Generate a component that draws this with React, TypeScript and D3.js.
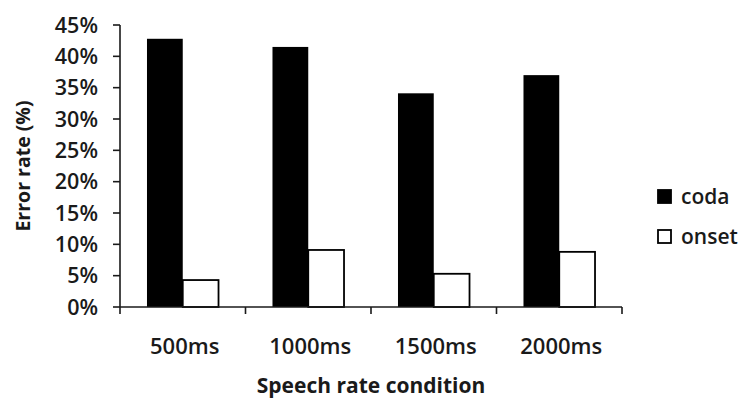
import React from "react";
import * as d3 from "d3";

const categories = ["500ms", "1000ms", "1500ms", "2000ms"];
const seriesNames = ["coda", "onset"];
const codaValues = [42.8, 41.5, 34.1, 37.0];
const onsetValues = [4.3, 9.1, 5.3, 8.8];
const yTicks = [0, 5, 10, 15, 20, 25, 30, 35, 40, 45];

const W = 740;
const H = 399;
const left = 120;
const right = 622;
const top = 25;
const bottom = 307;
const font = "'Open Sans', sans-serif";
const ink = "#1a1a1a";

export default function App() {
  const x = d3.scaleBand<string>().domain(categories).range([left, right]).paddingInner(0).paddingOuter(0);
  const bw = x.bandwidth();
  const x1 = d3.scaleBand<string>().domain(seriesNames).range([bw * 0.215, bw * 0.785]).padding(0);
  const y = d3.scaleLinear().domain([0, 45]).range([bottom, top]);
  const values: Record<string, number[]> = { coda: codaValues, onset: onsetValues };
  const boundaries = [...categories.map((c) => x(c) as number), right];

  return (
    <svg width={W} height={H} style={{ position: "absolute", left: 0, top: 0, background: "#fff" }}>
      {/* bars */}
      {categories.map((c, i) =>
        seriesNames.map((s) => {
          const v = values[s][i];
          const bx = (x(c) as number) + (x1(s) as number);
          return (
            <rect
              key={c + s}
              x={bx}
              y={y(v)}
              width={x1.bandwidth()}
              height={y(0) - y(v)}
              fill={s === "coda" ? "#000" : "#fff"}
              stroke="#000"
              strokeWidth={s === "coda" ? 0 : 1.8}
            />
          );
        })
      )}
      {/* y axis */}
      <line x1={left} x2={left} y1={y(45)} y2={y(0)} stroke={ink} strokeWidth={1.6} />
      {yTicks.map((t) => (
        <g key={t}>
          <line x1={left - 7} x2={left} y1={y(t)} y2={y(t)} stroke={ink} strokeWidth={1.6} />
          <text
            x={left - 22}
            y={y(t)}
            dy="0.35em"
            textAnchor="end"
            fontFamily={font}
            fontSize={21.5}
            fontWeight={600}
            fill={ink}
          >
            {t}%
          </text>
        </g>
      ))}
      {/* x axis */}
      <line x1={left} x2={right} y1={y(0)} y2={y(0)} stroke={ink} strokeWidth={1.6} />
      {boundaries.map((b, i) => (
        <line key={i} x1={b} x2={b} y1={y(0)} y2={y(0) + 7} stroke={ink} strokeWidth={1.6} />
      ))}
      {categories.map((c) => (
        <text
          key={c}
          x={(x(c) as number) + bw / 2 + 2}
          y={346}
          dy="0.35em"
          textAnchor="middle"
          fontFamily={font}
          fontSize={22}
          fontWeight={600}
          fill={ink}
        >
          {c}
        </text>
      ))}
      {/* axis titles */}
      <text
        x={371}
        y={386}
        dy="0.35em"
        textAnchor="middle"
        fontFamily={font}
        fontSize={21}
        fontWeight={700}
        fill={ink}
      >
        Speech rate condition
      </text>
      <text
        transform={`translate(23,166) rotate(-90)`}
        dy="0.35em"
        textAnchor="middle"
        fontFamily={font}
        fontSize={19.5}
        fontWeight={700}
        fill={ink}
      >
        Error rate (%)
      </text>
      {/* legend */}
      {seriesNames.map((s, i) => (
        <g key={s} transform={`translate(657,${189 + i * 40})`}>
          <rect x={1} y={1} width={13} height={13} fill={s === "coda" ? "#000" : "#fff"} stroke="#000" strokeWidth={1.8} />
          <text x={24} y={8} dy="0.35em" fontFamily={font} fontSize={21} fontWeight={600} fill={ink}>
            {s}
          </text>
        </g>
      ))}
    </svg>
  );
}
